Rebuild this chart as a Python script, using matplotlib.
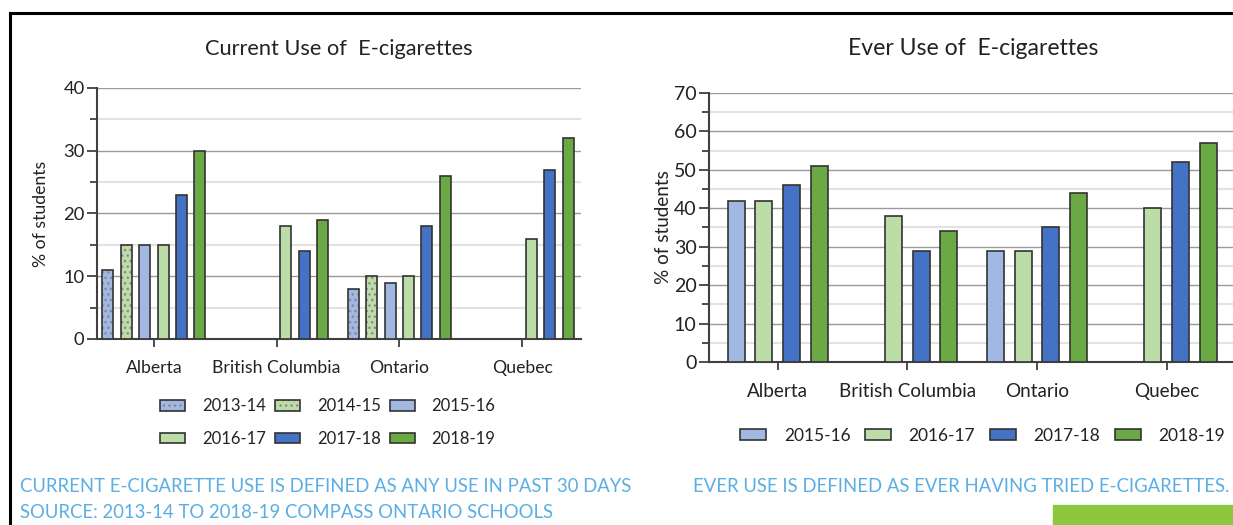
import matplotlib
matplotlib.use('Agg')
import matplotlib.pyplot as plt
from matplotlib.patches import Patch, Rectangle
from matplotlib.lines import Line2D
from matplotlib.legend_handler import HandlerTuple
import numpy as np

plt.rcParams['font.family'] = ['Lato', 'DejaVu Sans']
plt.rcParams['hatch.linewidth'] = 1.0

provinces = ['Alberta', 'British Columbia', 'Ontario', 'Quebec']

# current use (% of students), None = not surveyed
cur_years = ['2013-14', '2014-15', '2015-16', '2016-17', '2017-18', '2018-19']
cur_vals = {
    '2013-14': [11, None, 8, None],
    '2014-15': [15, None, 10, None],
    '2015-16': [15, None, 9, None],
    '2016-17': [15, 18, 10, 16],
    '2017-18': [23, 14, 18, 27],
    '2018-19': [30, 19, 26, 32],
}

# ever use
ever_years = ['2015-16', '2016-17', '2017-18', '2018-19']
ever_vals = {
    '2015-16': [42, None, 29, None],
    '2016-17': [42, 38, 29, 40],
    '2017-18': [46, 29, 35, 52],
    '2018-19': [51, 34, 44, 57],
}

colors = {'2013-14': '#a0b8e2', '2014-15': '#bcdca8', '2015-16': '#a0b8e2',
          '2016-17': '#bcdca8', '2017-18': '#4472c4', '2018-19': '#6aa944'}
hatches = {'2013-14': '...', '2014-15': '...'}
edge = '#333333'
dotc = '#8a8a8a'
txt = '#222222'

fig = plt.figure(figsize=(12.33, 5.25), dpi=100)


def draw(ax, years, vals, ymax, step, width, title, fs, lpad, tpad):
    x = np.arange(len(provinces))
    n = len(years)
    for k, yr in enumerate(years):
        off = (k - (n - 1) / 2) * step
        xs = [x[i] + off for i, v in enumerate(vals[yr]) if v is not None]
        hs = [v for v in vals[yr] if v is not None]
        ax.bar(xs, hs, width=width, color=colors[yr], edgecolor=dotc,
               linewidth=0, hatch=hatches.get(yr), zorder=3)
        ax.bar(xs, hs, width=width, fill=False, edgecolor=edge,
               linewidth=1.2, zorder=4)
    ax.set_ylim(0, ymax)
    ax.set_yticks(np.arange(0, ymax + 1, 10))
    ax.set_yticks(np.arange(5, ymax, 10), minor=True)
    ax.set_xticks(x)
    ax.set_xticklabels(provinces)
    for t in np.arange(10, ymax + 1, 10):
        ax.axhline(t, color='#9a9a9a', lw=1.0, zorder=1)
    for t in np.arange(5, ymax, 10):
        ax.axhline(t, color='#e2e2e2', lw=1.5, zorder=1)
    for s in ['top', 'right']:
        ax.spines[s].set_visible(False)
    for s in ['left', 'bottom']:
        ax.spines[s].set_color('#404040')
        ax.spines[s].set_linewidth(1.5)
    ax.tick_params(axis='y', which='major', length=7, width=1.3, color='#404040',
                   labelsize=fs + 0.5, labelcolor=txt, pad=2)
    ax.tick_params(axis='y', which='minor', length=5, width=1.3, color='#404040')
    ax.tick_params(axis='x', length=6, width=1.3, color='#404040', labelsize=fs,
                   labelcolor=txt, pad=9)
    ax.set_ylabel('% of students', fontsize=fs, color=txt, labelpad=lpad)
    ax.set_title(title, fontsize=fs + 3, color=txt, pad=tpad)


ax1 = fig.add_axes([0.0787, 0.3543, 0.3925, 0.4781])
draw(ax1, cur_years, cur_vals, 40, 0.15, 0.09, 'Current Use of  E-cigarettes', 12.7, 10, 24)
ax1.set_xlim(-0.463, 3.48)

ax2 = fig.add_axes([0.575, 0.3105, 0.429, 0.5124])
draw(ax2, ever_years, ever_vals, 70, 0.2135, 0.13, 'Ever Use of  E-cigarettes', 13.6, 1, 27)
ax2.set_xlim(-0.53, 3.55)


# legends
def handle(yr):
    base = Patch(facecolor=colors[yr], edgecolor=dotc, hatch=hatches.get(yr), linewidth=0)
    top = Patch(fill=False, edgecolor=edge, linewidth=1.2)
    return (base, top)


hmap = {tuple: HandlerTuple(ndivide=1, pad=0)}
order = ['2013-14', '2016-17', '2014-15', '2017-18', '2015-16', '2018-19']
fig.legend([handle(y) for y in order], order, loc='center', ncol=3,
           bbox_to_anchor=(0.266, 0.195), frameon=False, fontsize=12,
           handlelength=1.5, handleheight=0.6, handletextpad=1.0,
           columnspacing=0.55, labelspacing=1.0, labelcolor=txt, handler_map=hmap)
fig.legend([handle(y) for y in ever_years], ever_years, loc='center', ncol=4,
           bbox_to_anchor=(0.797, 0.17), frameon=False, fontsize=12.5,
           handlelength=1.5, handleheight=0.6, handletextpad=1.0,
           columnspacing=0.85, labelcolor=txt, handler_map=hmap)

# notes
blue = '#5aaee3'
fig.text(20 / 1233, 1 - 487 / 525, 'CURRENT E-CIGARETTE USE IS DEFINED AS ANY USE IN PAST 30 DAYS',
         color=blue, fontsize=13.35, va='center')
fig.text(20 / 1233, 1 - 513 / 525, 'SOURCE: 2013-14 TO 2018-19 COMPASS ONTARIO SCHOOLS',
         color=blue, fontsize=13.35, va='center')
fig.text(693 / 1233, 1 - 487 / 525, 'EVER USE IS DEFINED AS EVER HAVING TRIED E-CIGARETTES.',
         color=blue, fontsize=13.35, va='center')

# frame and green block
fig.add_artist(Line2D([10 / 1233, 1], [1 - 13 / 525] * 2, color='black', lw=2.2))
fig.add_artist(Line2D([10 / 1233] * 2, [0, 1 - 13 / 525], color='black', lw=2.2))
fig.add_artist(Rectangle((1053 / 1233, 0), 180 / 1233, 20 / 525, color='#8dc63f',
                         transform=fig.transFigure))

fig.savefig('out.png', dpi=100)
